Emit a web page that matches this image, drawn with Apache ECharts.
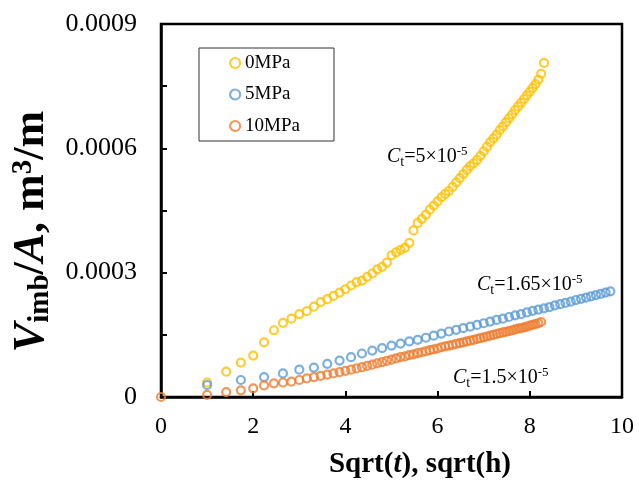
<!DOCTYPE html>
<html>
<head>
<meta charset="utf-8">
<script src="https://cdn.jsdelivr.net/npm/echarts@6/dist/echarts.min.js"></script>
<style>
  html, body { margin: 0; padding: 0; background: #fff; }
  #chart { width: 639px; height: 484px; }
</style>
</head>
<body>
<div id="chart"></div>
<script>
// ---------------- data ----------------
const seriesNames = ['0MPa', '5MPa', '10MPa'];

// 0MPa: sqrt(t) and V/A (x 1e-4)
const x0MPa = [1, 1.414, 1.732, 2, 2.236, 2.449, 2.646, 2.828, 3, 3.162,
  3.317, 3.464, 3.606, 3.742, 3.873, 4, 4.123, 4.243, 4.359, 4.472,
  4.583, 4.690, 4.796, 4.899, 5, 5.099, 5.196, 5.292, 5.385, 5.477,
  5.568, 5.657, 5.745, 5.831, 5.916, 6, 6.083, 6.164, 6.245, 6.325,
  6.403, 6.481, 6.557, 6.633, 6.708, 6.782, 6.856, 6.928, 7, 7.071,
  7.141, 7.211, 7.280, 7.348, 7.416, 7.483, 7.550, 7.616, 7.681, 7.746,
  7.810, 7.874, 7.937, 8, 8.062, 8.124, 8.185, 8.246, 8.307];
const y0MPa = [0.35, 0.61, 0.83, 1.00, 1.32, 1.61, 1.79, 1.89, 2.00, 2.07,
  2.18, 2.29, 2.36, 2.44, 2.52, 2.60, 2.69, 2.77, 2.81, 2.90,
  2.98, 3.08, 3.14, 3.24, 3.42, 3.49, 3.55, 3.60, 3.72, 4.02,
  4.20, 4.30, 4.40, 4.52, 4.62, 4.72, 4.82, 4.90, 4.97, 5.07,
  5.18, 5.28, 5.38, 5.48, 5.57, 5.64, 5.72, 5.82, 5.93, 6.04,
  6.15, 6.24, 6.33, 6.44, 6.53, 6.63, 6.73, 6.82, 6.92, 7.01,
  7.10, 7.19, 7.28, 7.37, 7.46, 7.55, 7.66, 7.80, 8.06];

// 5MPa
const x5MPa = [1, 1.732, 2.236, 2.646, 3, 3.317, 3.606, 3.873, 4.123, 4.359,
  4.583, 4.796, 5, 5.196, 5.385, 5.568, 5.745, 5.916, 6.083, 6.245,
  6.403, 6.557, 6.708, 6.856, 7, 7.141, 7.280, 7.416, 7.550, 7.681,
  7.810, 7.937, 8.062, 8.185, 8.307, 8.426, 8.544, 8.660, 8.775, 8.888,
  9, 9.110, 9.220, 9.327, 9.434, 9.539, 9.644, 9.747];
const y5MPa = [0.29, 0.41, 0.48, 0.57, 0.66, 0.71, 0.80, 0.88, 0.96, 1.05,
  1.12, 1.18, 1.24, 1.29, 1.34, 1.38, 1.43, 1.48, 1.53, 1.58,
  1.62, 1.66, 1.70, 1.74, 1.78, 1.82, 1.86, 1.89, 1.93, 1.97,
  2.00, 2.04, 2.08, 2.11, 2.14, 2.17, 2.21, 2.24, 2.27, 2.30,
  2.34, 2.37, 2.40, 2.43, 2.46, 2.49, 2.52, 2.55];

// 10MPa
const x10MPa = [0, 1, 1.414, 1.732, 2, 2.236, 2.449, 2.646, 2.828, 3,
  3.162, 3.317, 3.464, 3.606, 3.742, 3.873, 4, 4.123, 4.243, 4.359,
  4.472, 4.583, 4.690, 4.796, 4.899, 5, 5.099, 5.196, 5.292, 5.385,
  5.477, 5.568, 5.657, 5.745, 5.831, 5.916, 6, 6.083, 6.164, 6.245,
  6.325, 6.403, 6.481, 6.557, 6.633, 6.708, 6.782, 6.856, 6.928, 7,
  7.071, 7.141, 7.211, 7.280, 7.348, 7.416, 7.483, 7.550, 7.616, 7.681,
  7.746, 7.810, 7.874, 7.937, 8, 8.062, 8.124, 8.185, 8.246];
const y10MPa = [0, 0.05, 0.12, 0.16, 0.21, 0.28, 0.33, 0.35, 0.37, 0.41,
  0.45, 0.48, 0.51, 0.54, 0.57, 0.60, 0.63, 0.66, 0.69, 0.72,
  0.75, 0.78, 0.81, 0.84, 0.87, 0.90, 0.93, 0.96, 0.98, 1.01,
  1.03, 1.06, 1.08, 1.10, 1.13, 1.15, 1.17, 1.20, 1.22, 1.24,
  1.26, 1.28, 1.30, 1.32, 1.34, 1.36, 1.38, 1.40, 1.42, 1.44,
  1.46, 1.48, 1.50, 1.52, 1.54, 1.56, 1.57, 1.59, 1.61, 1.63,
  1.65, 1.66, 1.68, 1.70, 1.72, 1.74, 1.76, 1.78, 1.81];

const yScale = 1e-4;
const yTickLabels = ['0', '0.0003', '0.0006', '0.0009'];
const xTickLabels = ['0', '2', '4', '6', '8', '10'];
const colors = ['#FFC000', '#5B9BD5', '#ED7D31'];

// ---------------- chart ----------------
const FONT = '"Liberation Serif", "Times New Roman", serif';
function pairs(xs, ys) { return xs.map((x, i) => [x, ys[i] * yScale]); }

const chart = echarts.init(document.getElementById('chart'), null, { renderer: 'canvas' });

const mkSeries = (name, xs, ys, color) => ({
  name: name,
  type: 'scatter',
  data: pairs(xs, ys),
  symbol: 'circle',
  symbolSize: 8,
  itemStyle: { color: 'rgba(255,255,255,0)', borderColor: color, borderWidth: 2.2 },
  emphasis: { disabled: true },
  z: 3
});

const annRich = {
  i: { fontFamily: FONT, fontSize: 20, fontStyle: 'italic', fill: '#000', lineHeight: 24 },
  s: { fontFamily: FONT, fontSize: 14, fill: '#000', lineHeight: 14, verticalAlign: 'bottom' },
  n: { fontFamily: FONT, fontSize: 20, fill: '#000', lineHeight: 24 },
  p: { fontFamily: FONT, fontSize: 13, fill: '#000', lineHeight: 13, verticalAlign: 'top' }
};

const option = {
  animation: false,
  backgroundColor: '#fff',
  grid: {
    left: 161, right: 17, top: 24, bottom: 79,
    show: true, borderColor: '#000', borderWidth: 2.5, backgroundColor: 'transparent'
  },
  legend: {
    orient: 'vertical',
    left: 199, top: 48,
    padding: [5, 34, 5, 30],
    itemGap: 11.5,
    itemWidth: 10, itemHeight: 10,
    borderColor: '#333', borderWidth: 1,
    itemStyle: { borderWidth: 2.2 },
    textStyle: { fontFamily: FONT, fontSize: 19, color: '#000', lineHeight: 20 },
    data: seriesNames
  },
  xAxis: {
    type: 'value',
    min: 0, max: 10, interval: 2,
    name: '{b|Sqrt(}{bi|t}{b|), sqrt(h)}',
    nameLocation: 'middle',
    nameGap: 53,
    nameTextStyle: {
      padding: [0, 0, 0, 57],
      rich: {
        b: { fontFamily: FONT, fontSize: 29, fontWeight: 'bold', color: '#000' },
        bi: { fontFamily: FONT, fontSize: 29, fontWeight: 'bold', fontStyle: 'italic', color: '#000' }
      }
    },
    axisLine: { show: true, onZero: false, lineStyle: { color: '#000', width: 2.5 } },
    axisTick: { show: true, inside: true, length: 6, lineStyle: { color: '#000', width: 2 } },
    axisLabel: {
      margin: 18,
      fontFamily: FONT, fontSize: 24, color: '#000',
      formatter: (v, i) => xTickLabels[i]
    },
    splitLine: { show: false }
  },
  yAxis: {
    type: 'value',
    min: 0, max: 0.0009, interval: 0.00015,
    name: '{bi|V}{sub|imb}{b|/}{bi|A}{b|, m}{sup|3}{b|/m}',
    nameLocation: 'middle',
    nameGap: 96,
    nameTextStyle: {
      padding: [0, 42, 0, 0],
      rich: {
        bi: { fontFamily: FONT, fontSize: 44, fontWeight: 'bold', fontStyle: 'italic', color: '#000', lineHeight: 46 },
        b: { fontFamily: FONT, fontSize: 44, fontWeight: 'bold', color: '#000', lineHeight: 46 },
        sub: { fontFamily: FONT, fontSize: 29, fontWeight: 'bold', color: '#000', lineHeight: 26, verticalAlign: 'bottom' },
        sup: { fontFamily: FONT, fontSize: 29, fontWeight: 'bold', color: '#000', lineHeight: 26, verticalAlign: 'top' }
      }
    },
    axisLine: { show: true, onZero: false, lineStyle: { color: '#000', width: 2.5 } },
    axisTick: { show: true, inside: true, length: 6, lineStyle: { color: '#000', width: 2 } },
    axisLabel: {
      margin: 24,
      fontFamily: FONT, fontSize: 26, color: '#000',
      formatter: (v, i) => (i % 2 === 0 ? yTickLabels[i / 2] : '')
    },
    splitLine: { show: false }
  },
  series: [
    mkSeries(seriesNames[0], x0MPa, y0MPa, colors[0]),
    mkSeries(seriesNames[1], x5MPa, y5MPa, colors[1]),
    mkSeries(seriesNames[2], x10MPa, y10MPa, colors[2])
  ],
  graphic: [
    { type: 'text', x: 387, y: 157, style: { text: '{i|C}{s|t}{n|=5×10}{p|-5}', rich: annRich, verticalAlign: 'middle' } },
    { type: 'text', x: 477, y: 285, style: { text: '{i|C}{s|t}{n|=1.65×10}{p|-5}', rich: annRich, verticalAlign: 'middle' } },
    { type: 'text', x: 453, y: 378, style: { text: '{i|C}{s|t}{n|=1.5×10}{p|-5}', rich: annRich, verticalAlign: 'middle' } }
  ]
};

chart.setOption(option);
</script>
</body>
</html>
